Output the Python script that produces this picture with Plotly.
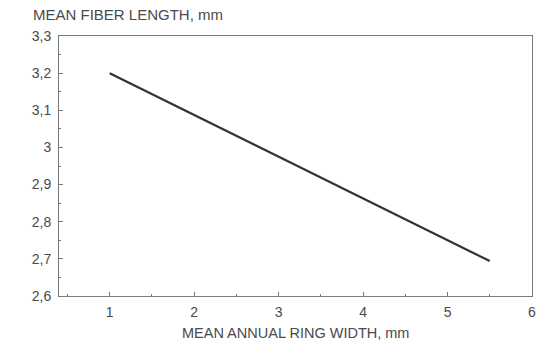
import plotly.graph_objects as go

# Regression line: mean fiber length vs. mean annual ring width
ring_width = [1.0, 5.5]
fiber_length = [3.2, 2.694]

x_ticks = [1, 2, 3, 4, 5, 6]
y_ticks = [2.6, 2.7, 2.8, 2.9, 3.0, 3.1, 3.2, 3.3]

text_color = "#4a4a4a"
axis_color = "#7a7a7a"
font_family = "Liberation Sans, Arial, sans-serif"

fig = go.Figure()
fig.add_trace(go.Scatter(
    x=ring_width, y=fiber_length, mode="lines",
    line=dict(color="#333333", width=2.2),
    showlegend=False,
))

axis_common = dict(
    showgrid=False, zeroline=False, automargin=False,
    showline=True, linecolor=axis_color, linewidth=1, mirror=True,
    ticks="inside", ticklen=4, tickcolor=axis_color, tickwidth=1,
    tickfont=dict(family=font_family, size=14, color=text_color),
)

fig.update_layout(
    width=548, height=343,
    margin=dict(l=59, r=16, t=36, b=47),
    paper_bgcolor="white", plot_bgcolor="white",
    separators=", ",
    xaxis=dict(
        range=[0.4, 6], tickvals=x_ticks, ticklabelstandoff=3,
        minor=dict(dtick=0.5, tick0=0, ticks="inside", ticklen=2, tickcolor=axis_color),
        **axis_common,
    ),
    yaxis=dict(
        range=[2.6, 3.3], tickvals=y_ticks, ticklabelstandoff=4,
        minor=dict(dtick=0.05, tick0=2.6, ticks="inside", ticklen=2, tickcolor=axis_color),
        **axis_common,
    ),
    annotations=[
        dict(
            text="MEAN FIBER LENGTH, mm", xref="paper", yref="paper",
            x=-0.059, y=1.0, xanchor="left", yanchor="bottom", yshift=11,
            showarrow=False,
            font=dict(family=font_family, size=15, color=text_color),
        ),
        dict(
            text="MEAN ANNUAL RING WIDTH, mm", xref="paper", yref="paper",
            x=0.5, y=0.0, xanchor="center", yanchor="middle", yshift=-37,
            showarrow=False,
            font=dict(family=font_family, size=14.5, color=text_color),
        ),
    ],
)

fig.write_html("out.html")
